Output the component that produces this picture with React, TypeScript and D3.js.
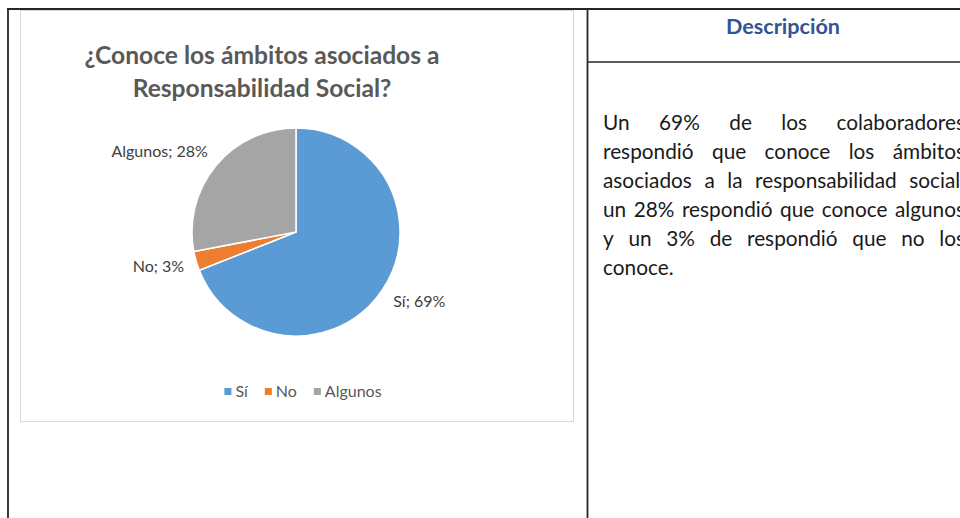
import React, { useMemo } from 'react';
import * as d3 from 'd3';

const categories = ['Sí', 'No', 'Algunos'];
const values = [69, 3, 28];
const colors = ['#5b9bd5', '#ed7d31', '#a5a5a5'];
const titleLines = ['¿Conoce los ámbitos asociados a', 'Responsabilidad Social?'];
const headerText = 'Descripción';
const paragraphLines = [
  'Un 69% de los colaboradores',
  'respondió que conoce los ámbitos',
  'asociados a la responsabilidad social,',
  'un 28% respondió que conoce algunos',
  'y un 3% de respondió que no los',
  'conoce.',
];

const FONT = "Lato, 'Open Sans', sans-serif";

let ctx: CanvasRenderingContext2D | null = null;
function measure(text: string, font: string): number {
  if (!ctx) ctx = document.createElement('canvas').getContext('2d');
  if (!ctx) return text.length * 8;
  ctx.font = font;
  return ctx.measureText(text).width;
}

export default function App() {
  const W = 960;
  const H = 518;
  const cx = 296;
  const cy = 232;
  const r = 104;

  const pie = d3.pie<number>().sort(null).startAngle(0).endAngle(2 * Math.PI);
  const arcs = pie(values);
  const arcGen = d3.arc<d3.PieArcDatum<number>>().innerRadius(0).outerRadius(r);
  const labelArc = d3.arc<d3.PieArcDatum<number>>().innerRadius(r * 1.2).outerRadius(r * 1.2);

  const labelFontSize = 16;
  const legendFontSize = 16;
  const paraFontSize = 20.8;
  const paraFont = `${paraFontSize}px ${FONT}`;

  const paraLayout = useMemo(() => {
    const x0 = 603;
    const x1 = 965;
    return paragraphLines.map((line, i) => {
      const words = line.split(' ');
      const widths = words.map((w) => measure(w, paraFont));
      const last = i === paragraphLines.length - 1;
      const sum = widths.reduce((a, b) => a + b, 0);
      const spaceW = measure(' ', paraFont);
      const gap = last || words.length < 2 ? spaceW : Math.max(3, (x1 - x0 - sum) / (words.length - 1));
      let x = x0;
      return words.map((w, j) => {
        const pos = x;
        x += widths[j] + gap;
        return { w, x: pos };
      });
    });
  }, []);

  const legendLayout = useMemo(() => {
    const font = `${legendFontSize}px ${FONT}`;
    const sq = 7;
    const pad = 4;
    const between = 17;
    const items = categories.map((c) => ({ c, tw: measure(c, font) }));
    const total = items.reduce((a, it) => a + sq + pad + it.tw, 0) + between * (items.length - 1);
    let x = 303 - total / 2;
    return items.map((it, i) => {
      const pos = x;
      x += sq + pad + it.tw + between;
      return { ...it, x: pos, color: colors[i] };
    });
  }, []);

  const lineColor = '#262626';

  return (
    <div style={{ position: 'absolute', left: 0, top: 0 }}>
      <svg width={W} height={H} style={{ display: 'block', background: '#fff' }}>
        {/* chart area box */}
        <rect x={20.5} y={10.5} width={553} height={411} fill="#fff" stroke="#d9d9d9" strokeWidth={1} />

        {/* table borders */}
        <line x1={7} y1={9} x2={W} y2={9} stroke={lineColor} strokeWidth={1.8} />
        <line x1={8} y1={8} x2={8} y2={H} stroke={lineColor} strokeWidth={1.8} />
        <line x1={587.5} y1={8} x2={587.5} y2={H} stroke={lineColor} strokeWidth={1.8} />
        <line x1={587} y1={62} x2={W} y2={62} stroke={lineColor} strokeWidth={1.5} />

        {/* title */}
        <g fontFamily={FONT} fontWeight="bold" fontSize={24.6} fill="#595959" textAnchor="middle">
          {titleLines.map((t, i) => (
            <text key={i} x={262} y={64 + i * 33}>
              {t}
            </text>
          ))}
        </g>

        {/* pie */}
        <g transform={`translate(${cx},${cy})`}>
          {arcs.map((a, i) => (
            <path key={i} d={arcGen(a) || ''} fill={colors[i]} stroke="#fff" strokeWidth={1.5} strokeLinejoin="round" />
          ))}
          {arcs.map((a, i) => {
            const [lx, ly] = labelArc.centroid(a);
            const right = lx > 0;
            return (
              <text
                key={'l' + i}
                x={lx + (right ? -6 : 8)}
                y={ly + 5}
                textAnchor={right ? 'start' : 'end'}
                fontFamily={FONT}
                fontSize={labelFontSize}
                fill="#404040"
              >
                {`${categories[i]}; ${values[i]}%`}
              </text>
            );
          })}
        </g>

        {/* legend */}
        <g fontFamily={FONT} fontSize={legendFontSize} fill="#595959">
          {legendLayout.map((it, i) => (
            <g key={i}>
              <rect x={it.x} y={388} width={7} height={7} fill={it.color} />
              <text x={it.x + 11} y={397}>
                {it.c}
              </text>
            </g>
          ))}
        </g>

        {/* right column */}
        <text x={783} y={34} textAnchor="middle" fontFamily={FONT} fontWeight="bold" fontSize={21.6} fill="#2f5597">
          {headerText}
        </text>
        <g fontFamily={FONT} fontSize={paraFontSize} fill="#1a1a1a">
          {paraLayout.map((words, i) =>
            words.map((wd, j) => (
              <text key={i + '-' + j} x={wd.x} y={130 + i * 29}>
                {wd.w}
              </text>
            ))
          )}
        </g>
      </svg>
    </div>
  );
}
